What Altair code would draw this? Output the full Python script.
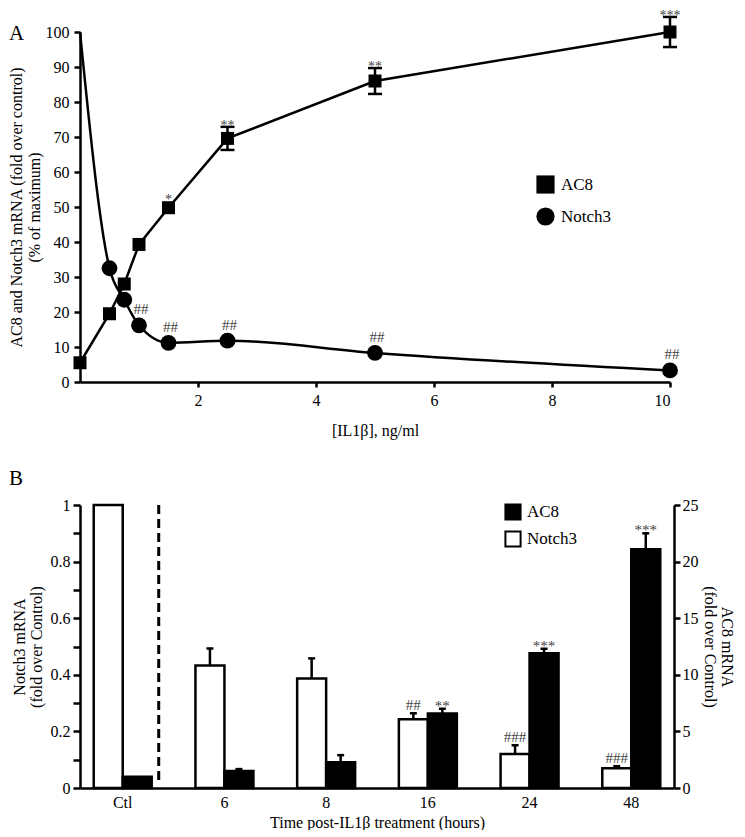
import altair as alt
import pandas as pd

FONT = "Liberation Serif"
ANN = "#444444"

# ---------------- Panel A data ----------------
doseA = [0, 0.5, 0.75, 1, 1.5, 2.5, 5, 10]
ac8A = [5.5, 19.5, 28.0, 39.3, 49.8, 69.6, 86.0, 100.0]
ac8A_err = [0, 0, 0, 0, 0, 3.3, 3.7, 4.3]
ac8A_sig = ["", "", "", "", "*", "**", "**", "***"]

notchA_dose = [0, 0.5, 0.75, 1, 1.5, 2.5, 5, 10]
notchA = [100, 32.5, 23.5, 16.2, 11.2, 11.8, 8.3, 3.3]
notchA_marker = [False, True, True, True, True, True, True, True]
notchA_sig = ["", "", "", "##", "##", "##", "##", "##"]

# ---------------- Panel B data ----------------
timesB = ["Ctl", "6", "8", "16", "24", "48"]
notchB = [1.0, 0.433, 0.387, 0.243, 0.120, 0.070]
notchB_err = [0, 0.060, 0.071, 0.021, 0.031, 0.007]
notchB_sig = ["", "", "", "##", "###", "###"]
ac8B = [1.0, 1.5, 2.28, 6.58, 11.9, 21.1]
ac8B_err = [0, 0.17, 0.62, 0.42, 0.40, 1.4]
ac8B_sig = ["", "", "", "**", "***", "***"]

# ---------------- Panel A ----------------
dA1 = pd.DataFrame({"dose": doseA, "value": ac8A, "err": ac8A_err, "sig": ac8A_sig})
dA1["seriesA"] = "AC8"
dA1["marker"] = True
dA1["lo"] = dA1["value"] - dA1["err"]
dA1["hi"] = dA1["value"] + dA1["err"]
dA1["top"] = dA1["value"] + dA1["err"].clip(lower=1.8)
dA2 = pd.DataFrame({"dose": notchA_dose, "value": notchA, "marker": notchA_marker, "sig": notchA_sig})
dA2["seriesA"] = "Notch3"
dPts = pd.concat([dA1[["dose", "value", "seriesA", "marker"]], dA2[["dose", "value", "seriesA", "marker"]]],
                 ignore_index=True)

sxA = alt.Scale(domain=[0, 10], nice=False, zero=False)
syA = alt.Scale(domain=[0, 100], nice=False)
axA_x = alt.Axis(values=[2, 4, 6, 8, 10], title="[IL1β], ng/ml", tickSize=5,
                 labelPadding=5, titlePadding=14, grid=False)
axA_y = alt.Axis(values=list(range(0, 101, 10)),
                 title=["AC8 and Notch3 mRNA  (fold over control)", "(% of maximum)"],
                 tickSize=6, labelPadding=5, titlePadding=3, titleLineHeight=18, grid=False)


def xa(f="dose"):
    return alt.X(f + ":Q", scale=sxA, axis=axA_x)


def ya(f):
    return alt.Y(f + ":Q", scale=syA, axis=axA_y)


shapeA = alt.Shape("seriesA:N", scale=alt.Scale(domain=["AC8", "Notch3"], range=["square", "circle"]),
                   legend=alt.Legend(title=None, orient="none", legendX=456, legendY=143,
                                     symbolSize=330, symbolFillColor="black", symbolStrokeColor="black",
                                     symbolStrokeWidth=0, symbolOpacity=1, labelFont=FONT, labelFontSize=17,
                                     labelColor="black", rowPadding=13, labelOffset=6, padding=0))
sizeA = alt.Size("seriesA:N", scale=alt.Scale(domain=["AC8", "Notch3"], range=[169, 250]), legend=None)

lineA1 = alt.Chart(dA1).mark_line(color="black", strokeWidth=2.5).encode(x=xa(), y=ya("value"))
lineA2 = alt.Chart(dA2).mark_line(color="black", strokeWidth=2.5, interpolate="monotone").encode(
    x=xa(), y=ya("value"))
errA = alt.Chart(dA1).transform_filter("datum.err > 0")
errRuleA = errA.mark_rule(color="black", strokeWidth=2.5).encode(x=xa(), y=ya("lo"), y2="hi:Q")
capLoA = errA.mark_tick(orient="horizontal", size=14, thickness=2.5, color="black", opacity=1).encode(
    x=xa(), y=ya("lo"))
capHiA = errA.mark_tick(orient="horizontal", size=14, thickness=2.5, color="black", opacity=1).encode(
    x=xa(), y=ya("hi"))
ptsA = alt.Chart(dPts).transform_filter("datum.marker").mark_point(
    filled=True, color="black", opacity=1).encode(x=xa(), y=ya("value"), shape=shapeA, size=sizeA)
sigA1 = alt.Chart(dA1).transform_filter("datum.sig != ''").mark_text(
    font=FONT, fontSize=14, color=ANN, dy=3, baseline="alphabetic").encode(
    x=xa(), y=ya("top"), text="sig:N")
sigA2 = alt.Chart(dA2).transform_filter("datum.sig != ''").mark_text(
    font=FONT, fontSize=15, color=ANN, dy=-11, dx=2, baseline="alphabetic").encode(
    x=xa(), y=ya("value"), text="sig:N")
letterA = alt.Chart(pd.DataFrame({"t": ["A"]})).mark_text(
    font=FONT, fontSize=21, color="black", align="left", baseline="alphabetic").encode(
    x=alt.value(-71), y=alt.value(8), text="t:N")

chartA = alt.layer(lineA1, lineA2, errRuleA, capLoA, capHiA, ptsA, sigA1, sigA2, letterA).properties(
    width=590, height=350)

# ---------------- Panel B ----------------
dN = pd.DataFrame({"time": timesB, "value": notchB, "err": notchB_err, "sig": notchB_sig})
dN["seriesB"] = "Notch3"
dN["top"] = dN["value"] + dN["err"]
dC = pd.DataFrame({"time": timesB, "value": ac8B, "err": ac8B_err, "sig": ac8B_sig})
dC["seriesB"] = "AC8"
dC["top"] = dC["value"] + dC["err"]

sxB = alt.Scale(domain=timesB, paddingInner=0.43, paddingOuter=0.135)
axB_x = alt.Axis(title="Time post-IL1β treatment (hours)", ticks=False, labelAngle=0,
                 labelPadding=6, titlePadding=4, grid=False)


def xb():
    return alt.X("time:N", sort=timesB, scale=sxB, axis=axB_x)


def xob():
    return alt.XOffset("seriesB:N", scale=alt.Scale(domain=["Notch3", "AC8"], paddingInner=0, paddingOuter=0))


syN = alt.Scale(domain=[0, 1], nice=False)
axN = alt.Axis(values=[round(i * 0.1, 1) for i in range(11)],
               labelExpr="(round(datum.value*10) % 2 == 0) ? format(datum.value, '~g') : ''",
               title=["Notch3 mRNA", "(fold over Control)"], orient="left",
               tickSize=7, labelPadding=3, titlePadding=6, titleLineHeight=17, grid=False)
syC = alt.Scale(domain=[0, 25], nice=False)
axC = alt.Axis(values=[0, 5, 10, 15, 20, 25], title=["AC8 mRNA", "(fold over Control)"], orient="right",
               tickSize=6, labelPadding=2, titlePadding=3, titleLineHeight=17, grid=False)

fillB = alt.Fill("seriesB:N", scale=alt.Scale(domain=["AC8", "Notch3"], range=["black", "white"]),
                 legend=alt.Legend(title=None, orient="none", legendX=424, legendY=-2,
                                   symbolType="square", symbolSize=230, symbolStrokeColor="black",
                                   symbolStrokeWidth=2, labelFont=FONT, labelFontSize=17,
                                   labelColor="black", rowPadding=3, labelOffset=5, padding=0))

barN = alt.Chart(dN).mark_bar(stroke="black", strokeWidth=2.5).encode(
    x=xb(), xOffset=xob(), y=alt.Y("value:Q", scale=syN, axis=axN), fill=fillB)
errNb = alt.Chart(dN).transform_filter("datum.err > 0")
errN = errNb.mark_rule(color="black", strokeWidth=2.5).encode(
    x=xb(), xOffset=xob(), y=alt.Y("value:Q", scale=syN, axis=axN), y2="top:Q")
capN = errNb.mark_tick(size=7, thickness=2.5, color="black", opacity=1).encode(
    x=xb(), xOffset=xob(), y=alt.Y("top:Q", scale=syN, axis=axN))
sigN = alt.Chart(dN).transform_filter("datum.sig != ''").mark_text(
    font=FONT, fontSize=15, color=ANN, dy=-3, baseline="alphabetic").encode(
    x=xb(), xOffset=xob(), y=alt.Y("top:Q", scale=syN, axis=axN), text="sig:N")
dash = alt.Chart(pd.DataFrame({"time": ["Ctl"]})).mark_rule(
    color="black", strokeWidth=3, strokeDash=[9, 5], xOffset=36).encode(
    x=xb(), y=alt.Y("d_one:Q", scale=syN, axis=axN), y2="d_zero:Q").transform_calculate(
    d_one="1", d_zero="0.012")
letterB = alt.Chart(pd.DataFrame({"t": ["B"]})).mark_text(
    font=FONT, fontSize=21, color="black", align="left", baseline="alphabetic").encode(
    x=alt.value(-71), y=alt.value(-20), text="t:N")

leftB = alt.layer(barN, errN, capN, sigN, dash, letterB)

barC = alt.Chart(dC).mark_bar(stroke="black", strokeWidth=2.5).encode(
    x=xb(), xOffset=xob(), y=alt.Y("value:Q", scale=syC, axis=axC), fill=fillB)
errCb = alt.Chart(dC).transform_filter("datum.err > 0")
errC = errCb.mark_rule(color="black", strokeWidth=2.5).encode(
    x=xb(), xOffset=xob(), y=alt.Y("value:Q", scale=syC, axis=axC), y2="top:Q")
capC = errCb.mark_tick(size=7, thickness=2.5, color="black", opacity=1).encode(
    x=xb(), xOffset=xob(), y=alt.Y("top:Q", scale=syC, axis=axC))
sigC = alt.Chart(dC).transform_filter("datum.sig != ''").mark_text(
    font=FONT, fontSize=15, color=ANN, dy=2, baseline="alphabetic").encode(
    x=xb(), xOffset=xob(), y=alt.Y("top:Q", scale=syC, axis=axC), text="sig:N")

rightB = alt.layer(barC, errC, capC, sigC)

chartB = alt.layer(leftB, rightB).resolve_scale(y="independent").properties(width=594, height=283)

chart = alt.vconcat(chartA, chartB, spacing=30).resolve_legend(
    shape="independent", fill="independent").properties(padding=0).configure_view(
    stroke=None).configure_axis(
    labelFont=FONT, titleFont=FONT, labelFontSize=16, titleFontSize=16,
    labelColor="black", titleColor="black", titleFontWeight="normal",
    domainColor="black", tickColor="black", domainWidth=2.5, tickWidth=2.5).configure_legend(
    labelFont=FONT, labelFontSize=17, labelColor="black")

chart.save("out.html", embed_options={"renderer": "svg", "actions": False})
